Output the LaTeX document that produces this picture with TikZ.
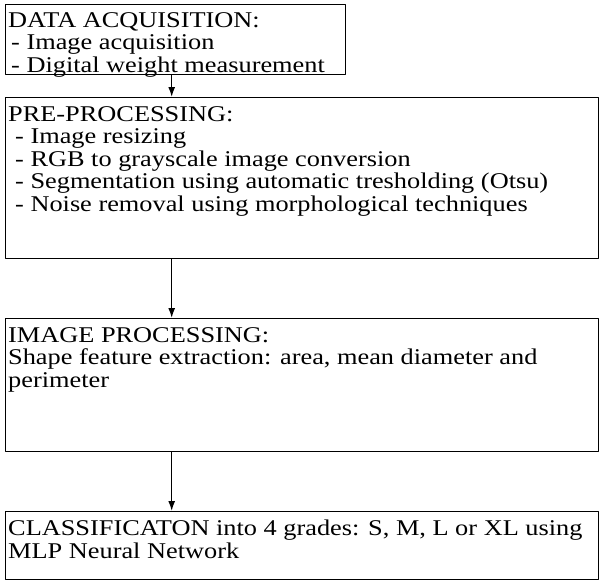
\documentclass[tikz,border=0pt]{standalone}
\usepackage{fontspec}
\setmainfont{Liberation Serif}[FakeStretch=1.17]
\usetikzlibrary{positioning, arrows.meta}
\tikzset{>={Latex[length=10pt, width=7pt]}}
\tikzset{stage/.style={draw, line width=1.4pt, inner sep=0pt, anchor=north west, minimum width=593pt}}
\tikzset{stagetext/.style={anchor=north west, align=left, inner sep=0pt, font=\fontsize{22.5}{22.5}\selectfont}}

\begin{document}
\begin{tikzpicture}[x=1pt, y=-1pt, line cap=round, line join=round]
	\useasboundingbox (0,0) rectangle (603,584);
	
	% Stage Boxes
	\node[stage, minimum width=340pt, minimum height=70pt] (acq) at (5,4) {};
	\node[stage, minimum height=161pt] (prep) at (5,97) {};
	\node[stage, minimum height=133pt] (proc) at (5,318) {};
	\node[stage, minimum height=68pt] (cls) at (5,511) {};
	
	% Stage Texts
	\node[stagetext] (acqtext) at ([xshift=3pt, yshift=-8pt]acq.north west)
		{DATA ACQUISITION:\\\hspace*{3pt}- Image acquisition\\\hspace*{3pt}- Digital weight measurement};
	\node[stagetext] (preptext) at ([xshift=3pt, yshift=-9pt]prep.north west)
		{PRE-PROCESSING:\\\hspace*{7pt}- Image resizing\\\hspace*{7pt}- RGB to grayscale image conversion\\\hspace*{7pt}- Segmentation using automatic tresholding (Otsu)\\\hspace*{7pt}- Noise removal using morphological techniques};
	\node[stagetext] (proctext) at ([xshift=3pt, yshift=-9pt]proc.north west)
		{IMAGE PROCESSING:\\Shape feature extraction: area, mean diameter and\\perimeter};
	\node[stagetext] (clstext) at ([xshift=3pt, yshift=-9pt]cls.north west)
		{CLASSIFICATON into 4 grades: S, M, L or XL using\\MLP Neural Network};
	
	% Arrows
	\coordinate (spine) at ([xshift=-4pt]acq.south);
	\draw[->, line width=1.4pt] (spine) -- (spine |- prep.north);
	\draw[->, line width=1.4pt] (spine |- prep.south) -- (spine |- proc.north);
	\draw[->, line width=1.4pt] (spine |- proc.south) -- (spine |- cls.north);
\end{tikzpicture}
\end{document}
